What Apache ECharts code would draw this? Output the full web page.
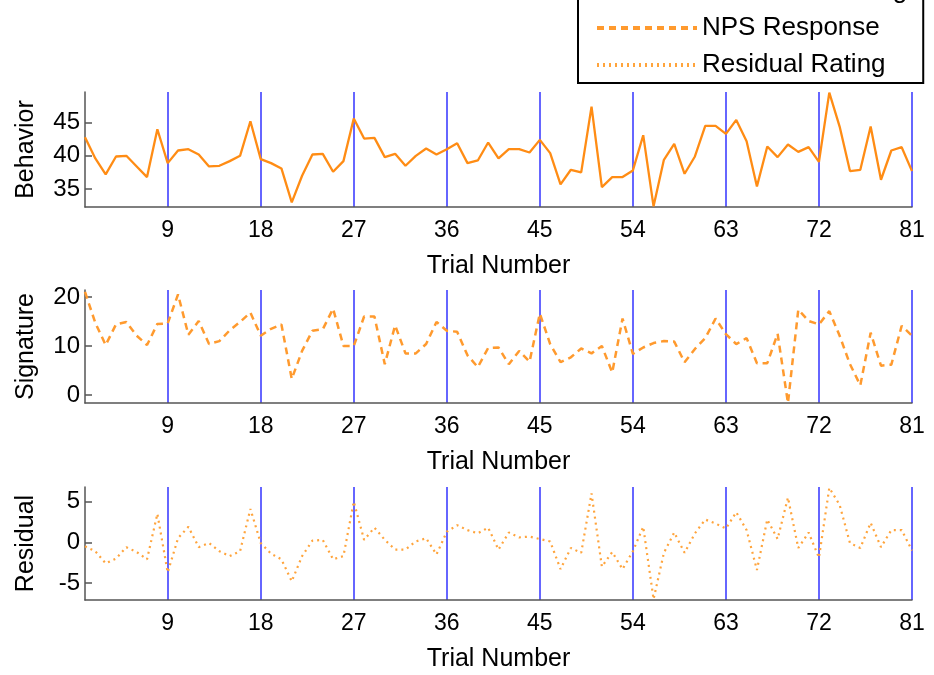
<!DOCTYPE html>
<html lang="en">
<head>
  <meta charset="UTF-8">
  <title>Trial ratings</title>
  <style>
    html, body { margin: 0; padding: 0; background: #fff; }
    #chart { width: 934px; height: 675px; }
  </style>
</head>
<body>
  <div id="chart"></div>

  <script src="https://cdn.jsdelivr.net/npm/echarts@6/dist/echarts.min.js"></script>
  <script>
    // values, trials 1..81
    var trials = [];
    for (var i = 1; i <= 81; i++) trials.push(String(i));

    var behavior = [42.8, 39.6, 37.2, 39.9, 40.0, 38.4, 36.8, 44.0, 38.9, 40.8,
      41.0, 40.2, 38.4, 38.5, 39.2, 40.0, 45.2, 39.5, 38.9, 38.1,
      33.0, 37.0, 40.2, 40.3, 37.6, 39.2, 45.6, 42.6, 42.7, 39.8,
      40.3, 38.5, 40.0, 41.1, 40.2, 41.0, 41.9, 38.9, 39.3, 42.0,
      39.6, 41.0, 41.0, 40.5, 42.4, 40.4, 35.7, 37.9, 37.5, 47.4,
      35.3, 36.8, 36.8, 37.8, 43.1, 32.4, 39.4, 41.8, 37.3, 39.9,
      44.5, 44.5, 43.3, 45.4, 42.2, 35.4, 41.4, 39.8, 41.7, 40.6,
      41.3, 39.1, 49.5, 44.4, 37.7, 37.9, 44.4, 36.4, 40.8, 41.3, 37.7];

    var signature = [21.0, 14.7, 10.2, 14.4, 14.9, 12.1, 10.2, 14.5, 14.6, 20.5,
      12.3, 15.1, 10.4, 11.0, 13.2, 14.9, 16.8, 12.1, 13.5, 14.4,
      3.3, 9.0, 13.1, 13.4, 17.6, 10.0, 10.0, 16.0, 16.0, 6.3,
      14.2, 8.5, 8.5, 10.4, 14.9, 13.1, 12.9, 8.1, 5.7, 9.6,
      9.7, 6.3, 9.0, 6.8, 16.6, 10.4, 6.7, 7.7, 9.5, 8.5,
      10.0, 4.6, 15.6, 8.4, 9.7, 10.6, 11.0, 10.9, 6.7, 9.4,
      11.6, 15.6, 12.4, 10.4, 11.6, 6.5, 6.5, 12.5, -1.6, 17.4,
      15.1, 14.4, 17.1, 12.1, 6.3, 2.0, 12.7, 6.0, 6.2, 14.1, 12.1];

    var residual = [-0.5, -1.1, -2.6, -2.0, -0.6, -1.2, -2.1, 3.5, -3.7, 0.5,
      1.9, -0.6, -0.1, -1.1, -1.7, -1.1, 4.1, -0.1, -1.4, -2.1,
      -4.8, -1.7, 0.2, 0.3, -2.1, -1.7, 5.0, 0.3, 1.8, 0.3,
      -0.9, -0.9, 0.1, 0.5, -1.5, 1.3, 2.1, 1.5, 1.1, 1.8,
      -0.9, 1.2, 0.6, 0.7, 0.4, 0.1, -3.3, -0.7, -1.3, 6.0,
      -3.0, -1.2, -3.3, -1.1, 1.9, -7.0, -1.3, 1.2, -1.3, 1.1,
      2.8, 2.3, 1.7, 3.7, 1.5, -3.4, 2.8, 0.4, 5.5, -0.7,
      1.2, -1.9, 6.7, 4.6, -0.1, -0.7, 2.4, -0.6, 1.5, 1.5, -1.0];

    var behaviorTicks = [35, 40, 45];
    var signatureTicks = [0, 10, 20];
    var residualTicks = [-5, 0, 5];

    var font = 'Liberation Sans, Arial, sans-serif';
    var everyNine = function (idx) { return (idx + 1) % 9 === 0; };

    function xAxisFor(gridIndex) {
      return {
        type: 'category',
        gridIndex: gridIndex,
        data: trials,
        boundaryGap: false,
        name: 'Trial Number',
        nameLocation: 'middle',
        nameGap: 47,
        nameTextStyle: { fontFamily: font, fontSize: 25, color: '#000' },
        axisLine: { onZero: false, lineStyle: { color: '#555', width: 1.5 } },
        axisTick: { show: false },
        axisLabel: { interval: everyNine, fontFamily: font, fontSize: 23, color: '#000', margin: 12 },
        splitLine: { show: true, interval: everyNine, lineStyle: { color: '#3333ff', width: 1.5 } }
      };
    }

    function yAxisFor(gridIndex, name, min, max, ticks) {
      return {
        type: 'value',
        gridIndex: gridIndex,
        min: min,
        max: max,
        name: name,
        nameLocation: 'middle',
        nameGap: 46,
        nameTextStyle: { fontFamily: font, fontSize: 25, color: '#000' },
        axisLine: { show: true, onZero: false, lineStyle: { color: '#555', width: 1.5 } },
        axisTick: { show: true, inside: true, length: 7, customValues: ticks, lineStyle: { color: '#555', width: 1.5 } },
        axisLabel: { customValues: ticks, fontFamily: font, fontSize: 24, color: '#000', margin: 5 },
        splitLine: { show: false }
      };
    }

    var chart = echarts.init(document.getElementById('chart'), null, { renderer: 'canvas' });

    var option = {
      animation: false,
      backgroundColor: '#fff',
      legend: {
        orient: 'vertical',
        left: 578,
        top: -28,
        padding: [6, 16, 5, 17],
        itemWidth: 100,
        itemHeight: 14,
        itemGap: 11,
        itemTextGap: 12,
        borderColor: '#000',
        borderWidth: 2,
        borderRadius: 0,
        backgroundColor: '#fff',
        itemStyle: { opacity: 0 },
        lineStyle: { width: 4 },
        textStyle: { fontFamily: font, fontSize: 26, lineHeight: 26, color: '#000' },
        data: ['Behavioral Rating', 'NPS Response', 'Residual Rating']
      },
      grid: [
        { left: 85, width: 827, top: 92, height: 115 },
        { left: 85, width: 827, top: 290, height: 113 },
        { left: 85, width: 827, top: 487, height: 113 }
      ],
      xAxis: [xAxisFor(0), xAxisFor(1), xAxisFor(2)],
      yAxis: [
        yAxisFor(0, 'Behavior', 32.3, 49.6, behaviorTicks),
        yAxisFor(1, 'Signature', -1.6, 21.4, signatureTicks),
        yAxisFor(2, 'Residual', -7.1, 6.8, residualTicks)
      ],
      series: [
        {
          name: 'Behavioral Rating',
          type: 'line',
          xAxisIndex: 0,
          yAxisIndex: 0,
          data: behavior,
          symbol: 'none',
          lineStyle: { color: '#ff8c14', width: 2.3 },
          itemStyle: { color: '#ff8c14' }
        },
        {
          name: 'NPS Response',
          type: 'line',
          xAxisIndex: 1,
          yAxisIndex: 1,
          data: signature,
          symbol: 'none',
          lineStyle: { color: '#ff9a2e', width: 2.5, type: [7, 5] },
          itemStyle: { color: '#ff9a2e' }
        },
        {
          name: 'Residual Rating',
          type: 'line',
          xAxisIndex: 2,
          yAxisIndex: 2,
          data: residual,
          symbol: 'none',
          lineStyle: { color: '#ffa43c', width: 2.2, type: [2, 4] },
          itemStyle: { color: '#ffa43c' }
        }
      ]
    };

    chart.setOption(option);
  </script>
</body>
</html>
